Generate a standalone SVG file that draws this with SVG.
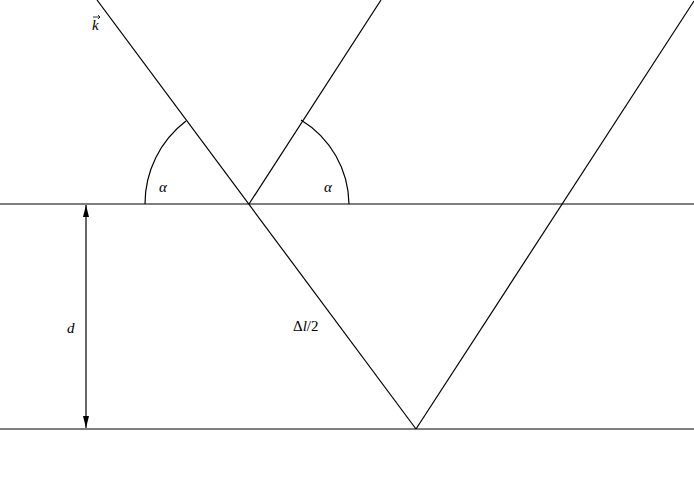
<svg xmlns="http://www.w3.org/2000/svg" width="694" height="481" viewBox="0 0 694 481">
<style>
.ln{stroke:#000;stroke-width:1.2;fill:none}
.t{font-family:"Liberation Serif",serif;font-size:15px;fill:#000}
.i{font-style:italic}
</style>
<defs>
<marker id="ah" markerWidth="12" markerHeight="6" refX="12" refY="3" orient="auto" markerUnits="userSpaceOnUse">
<path d="M0,0 L12,3 L0,6 Z" fill="#000"/>
</marker>
</defs>
<rect width="694" height="481" fill="#fff"/>
<g id="connectors">
<line class="ln" x1="0" y1="204" x2="694" y2="204"/>
<line class="ln" x1="0" y1="429" x2="694" y2="429"/>
<line class="ln" x1="97" y1="0" x2="416" y2="429"/>
<line class="ln" x1="416" y1="429" x2="694" y2="1"/>
<line class="ln" x1="249" y1="204" x2="381" y2="0"/>
<path class="ln" d="M145,204 A104,104 0 0 1 186,121"/>
<path class="ln" d="M349,204 A100,100 0 0 0 301,120"/>
<line class="ln" x1="86" y1="316" x2="86" y2="205" marker-end="url(#ah)"/>
<line class="ln" x1="86" y1="316" x2="86" y2="428" marker-end="url(#ah)"/>
</g>
<g id="labels">
<text class="t i" x="92" y="30">k</text>
<path d="M93,17 L100,17 M98,15 L100,17 L98,19" stroke="#000" stroke-width="0.8" fill="none"/>
<text class="t i" x="159" y="192">α</text>
<text class="t i" x="324" y="192">α</text>
<text class="t i" x="67" y="333">d</text>
<text class="t" x="293" y="331">Δ<tspan font-style="italic">l</tspan>/2</text>
</g>
</svg>
